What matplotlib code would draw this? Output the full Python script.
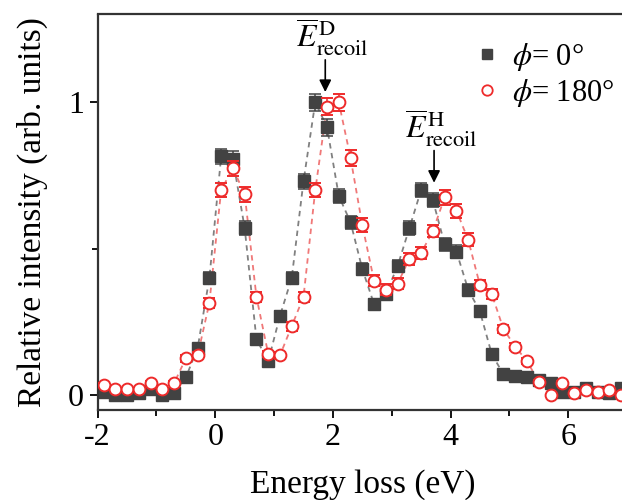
"""
Energy-loss spectra for phi = 0 and phi = 180 deg
"""

import matplotlib
matplotlib.use("Agg")
import matplotlib.pyplot as plt
from matplotlib.lines import Line2D

plt.rcParams['font.family'] = ['Liberation Serif', 'DejaVu Serif']
plt.rcParams['mathtext.fontset'] = 'stix'
plt.rcParams['axes.unicode_minus'] = False

# Energy loss (eV), shared by both series
energy = [-1.9, -1.7, -1.5, -1.3, -1.1, -0.9, -0.7, -0.5, -0.3, -0.1,
          0.1, 0.3, 0.5, 0.7, 0.9, 1.1, 1.3, 1.5, 1.7, 1.9,
          2.1, 2.3, 2.5, 2.7, 2.9, 3.1, 3.3, 3.5, 3.7, 3.9,
          4.1, 4.3, 4.5, 4.7, 4.9, 5.1, 5.3, 5.5, 5.7, 5.9,
          6.1, 6.3, 6.5, 6.7, 6.9]

# phi = 0 deg (squares)
int_0 = [0.01, 0.0, 0.0, 0.005, 0.02, 0.0, 0.005, 0.06, 0.16, 0.40,
         0.815, 0.805, 0.57, 0.19, 0.115, 0.27, 0.40, 0.73, 1.0, 0.915,
         0.68, 0.59, 0.43, 0.31, 0.345, 0.44, 0.57, 0.70, 0.665, 0.515,
         0.49, 0.36, 0.285, 0.14, 0.07, 0.065, 0.06, 0.05, 0.04, 0.01,
         0.01, 0.025, 0.01, 0.005, 0.025]
err_0 = [0.003, 0.0, 0.0, 0.002, 0.004, 0.0, 0.002, 0.007, 0.012, 0.019,
         0.027, 0.027, 0.023, 0.013, 0.010, 0.016, 0.019, 0.026, 0.030, 0.029,
         0.025, 0.023, 0.020, 0.017, 0.018, 0.020, 0.023, 0.025, 0.024, 0.022,
         0.021, 0.018, 0.016, 0.011, 0.008, 0.008, 0.007, 0.007, 0.006, 0.003,
         0.003, 0.005, 0.003, 0.002, 0.005]

# phi = 180 deg (circles)
int_180 = [0.035, 0.02, 0.02, 0.02, 0.04, 0.02, 0.04, 0.125, 0.135, 0.315,
           0.70, 0.775, 0.685, 0.335, 0.14, 0.135, 0.235, 0.335, 0.70, 0.985,
           1.0, 0.81, 0.58, 0.39, 0.36, 0.38, 0.465, 0.485, 0.56, 0.675,
           0.63, 0.53, 0.375, 0.345, 0.225, 0.165, 0.115, 0.045, 0.0, 0.04,
           0.005, 0.015, 0.01, 0.015, 0.0]
err_180 = [0.006, 0.004, 0.004, 0.004, 0.006, 0.004, 0.006, 0.011, 0.011, 0.017,
           0.025, 0.026, 0.025, 0.017, 0.011, 0.011, 0.015, 0.017, 0.025, 0.030,
           0.030, 0.027, 0.023, 0.019, 0.018, 0.018, 0.020, 0.021, 0.022, 0.025,
           0.024, 0.022, 0.018, 0.018, 0.014, 0.012, 0.010, 0.006, 0.0, 0.006,
           0.002, 0.004, 0.003, 0.004, 0.0]

# recoil energies marked with arrows: (label, x, arrow tip y)
recoil_D = (r'$\overline{E}^{\,\mathrm{D}}_{\mathrm{recoil}}$', 1.87, 1.035)
recoil_H = (r'$\overline{E}^{\,\mathrm{H}}_{\mathrm{recoil}}$', 3.72, 0.725)

DARK = '#424242'
RED = '#ee2a2a'

fig = plt.figure(figsize=(6.22, 5.0), dpi=100)
ax = fig.add_axes([0.157, 0.181, 0.851, 0.790])

# dashed connecting lines
ax.plot(energy, int_0, linestyle=(0, (3, 2.5)), color='#808080', lw=1.3, zorder=1)
ax.plot(energy, int_180, linestyle=(0, (3, 2.5)), color='#f07878', lw=1.3, zorder=1)

ax.errorbar(energy, int_0, yerr=err_0, fmt='s', ms=8, color=DARK, mfc=DARK,
            mec=DARK, ecolor=DARK, elinewidth=1.1, capsize=4, capthick=1.1, zorder=2)
ax.errorbar(energy, int_180, yerr=err_180, fmt='o', ms=8.5, color=RED, mfc='white',
            mec=RED, mew=1.4, ecolor=RED, elinewidth=1.1, capsize=4, capthick=1.1,
            zorder=3)

ax.set_xlim(-2, 7.0)
ax.set_ylim(-0.05, 1.3)
ax.set_xticks([-2, 0, 2, 4, 6])
ax.set_xticks([-1, 1, 3, 5], minor=True)
ax.set_yticks([0, 1])
ax.set_yticks([0.5], minor=True)
ax.set_yticklabels(['0', '1'])

ax.tick_params(axis='both', which='major', direction='out', length=6, width=1.3,
               labelsize=23, pad=4)
ax.tick_params(axis='both', which='minor', direction='out', length=4, width=1.3)
ax.tick_params(top=False, right=False)
for side in ['left', 'bottom', 'top']:
    ax.spines[side].set_linewidth(1.6)
    ax.spines[side].set_color('#333333')
ax.spines['right'].set_visible(False)

ax.set_xlabel('Energy loss (eV)', fontsize=24, labelpad=12)
ax.set_ylabel('Relative intensity (arb. units)', fontsize=24, labelpad=14)

arrow_style = dict(arrowstyle='-|>', color='black', lw=1.2,
                   mutation_scale=18, shrinkA=0, shrinkB=0)
for label, x, tip, dx, text_y in [(*recoil_D, 0.12, 1.15), (*recoil_H, 0.12, 0.84)]:
    ax.text(x + dx, text_y, label, fontsize=23, ha='center', va='bottom')
    ax.annotate('', xy=(x, tip), xytext=(x, tip + 0.11), arrowprops=arrow_style)

handles = [
    Line2D([], [], linestyle='none', marker='s', ms=7, color=DARK),
    Line2D([], [], linestyle='none', marker='o', ms=7.5, mfc='white', mec=RED, mew=1.3),
]
labels = [r'$\phi$= 0°', r'$\phi$= 180°']
ax.legend(handles, labels, loc='upper left', bbox_to_anchor=(0.707, 0.934),
          frameon=False, fontsize=22, handletextpad=0.3, labelspacing=0.15,
          handlelength=1.0, borderaxespad=0, borderpad=0)

fig.savefig('out.png', dpi=100)
